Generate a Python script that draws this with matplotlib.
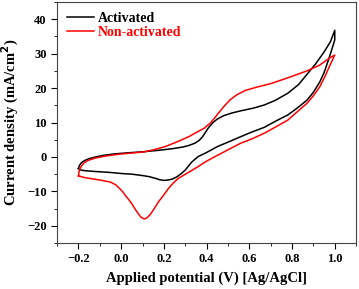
import numpy as np
import matplotlib
matplotlib.use('Agg')
import matplotlib.pyplot as plt
from matplotlib.ticker import MultipleLocator

plt.rcParams['font.family'] = ['Liberation Serif', 'DejaVu Serif']
plt.rcParams['font.weight'] = 'bold'
plt.rcParams['mathtext.default'] = 'bf'

# Activated: forward scan (-0.2 -> 1.0) then reverse scan (1.0 -> -0.2)
act_fwd_v = [-0.2, -0.195, -0.185, -0.17, -0.15, -0.12, -0.08, -0.03, 0.03, 0.1, 0.17, 0.24,
             0.29, 0.32, 0.345, 0.365, 0.38, 0.395, 0.41, 0.43, 0.45, 0.48, 0.52, 0.56, 0.62,
             0.67, 0.72, 0.78, 0.83, 0.87, 0.91, 0.95, 0.98, 1.0]
act_fwd_i = [-3.3, -2.4, -1.6, -1.0, -0.5, 0.0, 0.5, 0.9, 1.2, 1.5, 1.9, 2.4,
             2.9, 3.4, 4.0, 4.8, 5.8, 7.2, 8.6, 10.0, 11.0, 12.0, 12.8, 13.4, 14.2,
             15.1, 16.4, 18.5, 21.0, 24.0, 27.0, 30.5, 33.5, 36.8]
act_rev_v = [1.0, 0.985, 0.97, 0.95, 0.93, 0.9, 0.87, 0.82, 0.78, 0.72, 0.67, 0.61, 0.56, 0.5,
             0.45, 0.4, 0.36, 0.33, 0.3, 0.28, 0.26, 0.24, 0.22, 0.2, 0.18, 0.16, 0.13, 0.1,
             0.05, 0.0, -0.05, -0.1, -0.15, -0.18, -0.195, -0.2]
act_rev_i = [34.0, 31.0, 28.1, 24.5, 21.8, 18.8, 16.5, 14.0, 12.2, 10.3, 8.6, 7.2, 5.9, 4.3,
             3.0, 1.3, 0.1, -1.5, -3.8, -4.9, -5.8, -6.4, -6.7, -6.8, -6.6, -6.2, -5.7, -5.4,
             -5.0, -4.8, -4.5, -4.3, -4.1, -3.9, -3.7, -3.3]

# Non-activated
non_fwd_v = [-0.2, -0.197, -0.19, -0.175, -0.155, -0.12, -0.07, -0.01, 0.06, 0.11, 0.16, 0.21,
             0.27, 0.32, 0.36, 0.39, 0.42, 0.45, 0.48, 0.51, 0.54, 0.58, 0.63, 0.7, 0.79,
             0.87, 0.93, 0.98, 1.0]
non_fwd_i = [-5.5, -4.2, -3.0, -1.8, -1.0, -0.3, 0.3, 0.8, 1.2, 1.5, 2.2, 3.1,
             4.6, 6.0, 7.4, 8.4, 10.0, 12.3, 14.6, 16.6, 18.0, 19.3, 20.2, 21.3, 23.2,
             25.0, 26.7, 28.9, 29.6]
non_rev_v = [1.0, 0.99, 0.975, 0.955, 0.93, 0.9, 0.87, 0.82, 0.78, 0.72, 0.67, 0.61, 0.56,
             0.51, 0.47, 0.43, 0.4, 0.36, 0.32, 0.29, 0.268, 0.245, 0.222, 0.2, 0.175, 0.155,
             0.135, 0.12, 0.11, 0.1, 0.09, 0.068, 0.05, 0.037, 0.02, 0.006, -0.01, -0.025,
             -0.05, -0.09, -0.13, -0.17, -0.2]
non_rev_i = [29.6, 28.3, 26.3, 23.5, 20.4, 17.8, 15.6, 12.9, 10.7, 8.6, 6.9, 5.2, 4.0,
             2.4, 1.1, -0.2, -1.2, -2.8, -4.3, -5.4, -6.2, -7.5, -9.1, -11.0, -13.0, -15.0,
             -16.8, -17.7, -18.0, -17.8, -17.3, -15.4, -13.6, -12.5, -11.2, -10.0, -9.0, -8.1,
             -7.3, -6.8, -6.4, -6.0, -5.5]

fig = plt.figure(figsize=(3.59, 2.89), dpi=100)
ax = fig.add_axes([0.159, 0.159, 0.833, 0.834])

ax.plot(act_fwd_v + act_rev_v, act_fwd_i + act_rev_i, color='black', lw=1.1, label='Activated')
ax.plot(non_fwd_v + non_rev_v, non_fwd_i + non_rev_i, color='red', lw=1.1, label='Non-activated')

ax.set_xlim(-0.3, 1.1)
ax.set_ylim(-25, 45)
ax.xaxis.set_major_locator(MultipleLocator(0.2))
ax.xaxis.set_minor_locator(MultipleLocator(0.1))
ax.yaxis.set_major_locator(MultipleLocator(10))
ax.yaxis.set_minor_locator(MultipleLocator(5))
ax.tick_params(which='both', direction='out', top=False, right=False, labelsize=9)
ax.tick_params(which='major', length=4)
ax.tick_params(which='minor', length=2)
for s in ax.spines.values():
    s.set_color('#444444')

ax.set_xlabel('Applied potential (V) [Ag/AgCl]', fontsize=10.5, fontweight='bold')
ax.set_ylabel('Current density (mA/cm$^2$)', fontsize=10.5, fontweight='bold')

leg = ax.legend(loc='upper left', frameon=False, fontsize=10, handlelength=1.95,
                handletextpad=0.3, borderaxespad=0.3, labelspacing=0.1)
for txt, c in zip(leg.get_texts(), ['black', 'red']):
    txt.set_color(c)

fig.savefig('out.png', dpi=100)
